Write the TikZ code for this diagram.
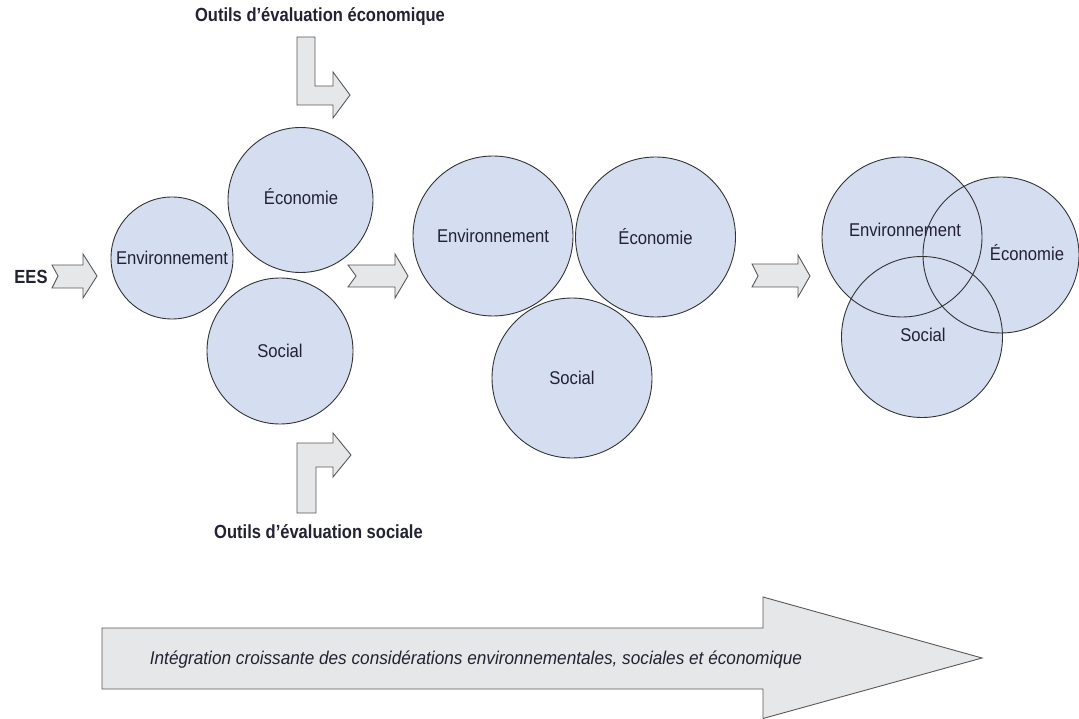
\documentclass[tikz,border=0pt]{standalone}
\usepackage{fontspec}
\setmainfont{Liberation Sans}[FakeStretch=0.9]
\newfontfamily\titlefont{Liberation Sans Bold}[FakeStretch=0.87]
\newfontfamily\itfont{Liberation Sans Italic}[FakeStretch=0.93]
\definecolor{circfill}{HTML}{D5DDF0}
\definecolor{arrfill}{HTML}{E6E7E8}
\definecolor{txt}{HTML}{222233}
\tikzset{
  circ/.style={circle, draw=black!80, line width=0.9pt, fill=circfill, inner sep=0pt,
    text=txt, font=\fontsize{18.5}{20}\selectfont},
  circline/.style={circle, draw=black!80, line width=0.9pt, inner sep=0pt},
  lbl/.style={text=txt, inner sep=0pt, font=\fontsize{18.5}{20}\selectfont},
  ttl/.style={text=txt, inner sep=0pt, font=\titlefont\fontsize{19}{21}\selectfont},
  itl/.style={text=txt, inner sep=0pt, font=\itfont\fontsize{18.5}{20}\selectfont},
  arrowshape/.style={draw=black!65, line width=0.9pt, fill=arrfill, line join=miter}
}
\begin{document}
\begin{tikzpicture}[x=1pt,y=-1pt]
\useasboundingbox (0,0) rectangle (1079,719);
% ---- labels
\node[ttl] (teco) at (320,17) {Outils d’évaluation économique};
\node[ttl] (tsoc) at (318.5,532) {Outils d’évaluation sociale};
\node[ttl] (tees) at (31,277) {EES};
% ---- bent arrows
\draw[arrowshape] (297,37) -- (315,37) -- (315,86) -- (333,86) -- (333,72) -- (350,95)
  -- (333,118) -- (333,105) -- (297,105) -- cycle;
\draw[arrowshape] (297,513) -- (297,443) -- (333,443) -- (333,433) -- (351,455)
  -- (333,477) -- (333,467) -- (316,467) -- (316,513) -- cycle;
% ---- chevron arrows
\draw[arrowshape] (52,265) -- (83,265) -- (83,254) -- (97,276) -- (83,298) -- (83,288)
  -- (52,288) -- (58,276) -- cycle;
\draw[arrowshape] (348,265) -- (395,265) -- (395,254) -- (408,276) -- (395,298) -- (395,287)
  -- (348,287) -- (356,276) -- cycle;
\draw[arrowshape] (752,264) -- (798,264) -- (798,255) -- (810,276) -- (798,297) -- (798,287)
  -- (752,287) -- (758,276) -- cycle;
% ---- stage 1
\node[circ, minimum size=122pt] (env1) at (172,258) {Environnement};
\node[circ, minimum size=145pt] (eco1) at (300.5,200) {};
\node[lbl] (eco1t) at (301,197) {Économie};
\node[circ, minimum size=146pt] (soc1) at (280,351) {Social};
% ---- stage 2
\node[circ, minimum size=160pt] (env2) at (493,236) {Environnement};
\node[circ, minimum size=160pt] (eco2) at (655.5,237) {Économie};
\node[circ, minimum size=160pt] (soc2) at (572,378) {Social};
% ---- stage 3
\fill[circfill] (902,237) circle[radius=80];
\fill[circfill] (1001,255) circle[radius=78];
\fill[circfill] (922,337) circle[radius=80.5];
\node[circline, minimum size=160pt] (env3) at (902,237) {};
\node[circline, minimum size=156pt] (eco3) at (1001,255) {};
\node[circline, minimum size=161pt] (soc3) at (922,337) {};
\node[lbl] (env3t) at (905,230) {Environnement};
\node[lbl] (eco3t) at (1027,253) {Économie};
\node[lbl] (soc3t) at (923,335) {Social};
% ---- big arrow
\draw[arrowshape] (102,628) -- (763,628) -- (763,597) -- (982,658) -- (763,718.5)
  -- (763,689) -- (102,689) -- cycle;
\node[itl] (integ) at (476,660) {Intégration croissante des considérations environnementales, sociales et économique};
\end{tikzpicture}
\end{document}
